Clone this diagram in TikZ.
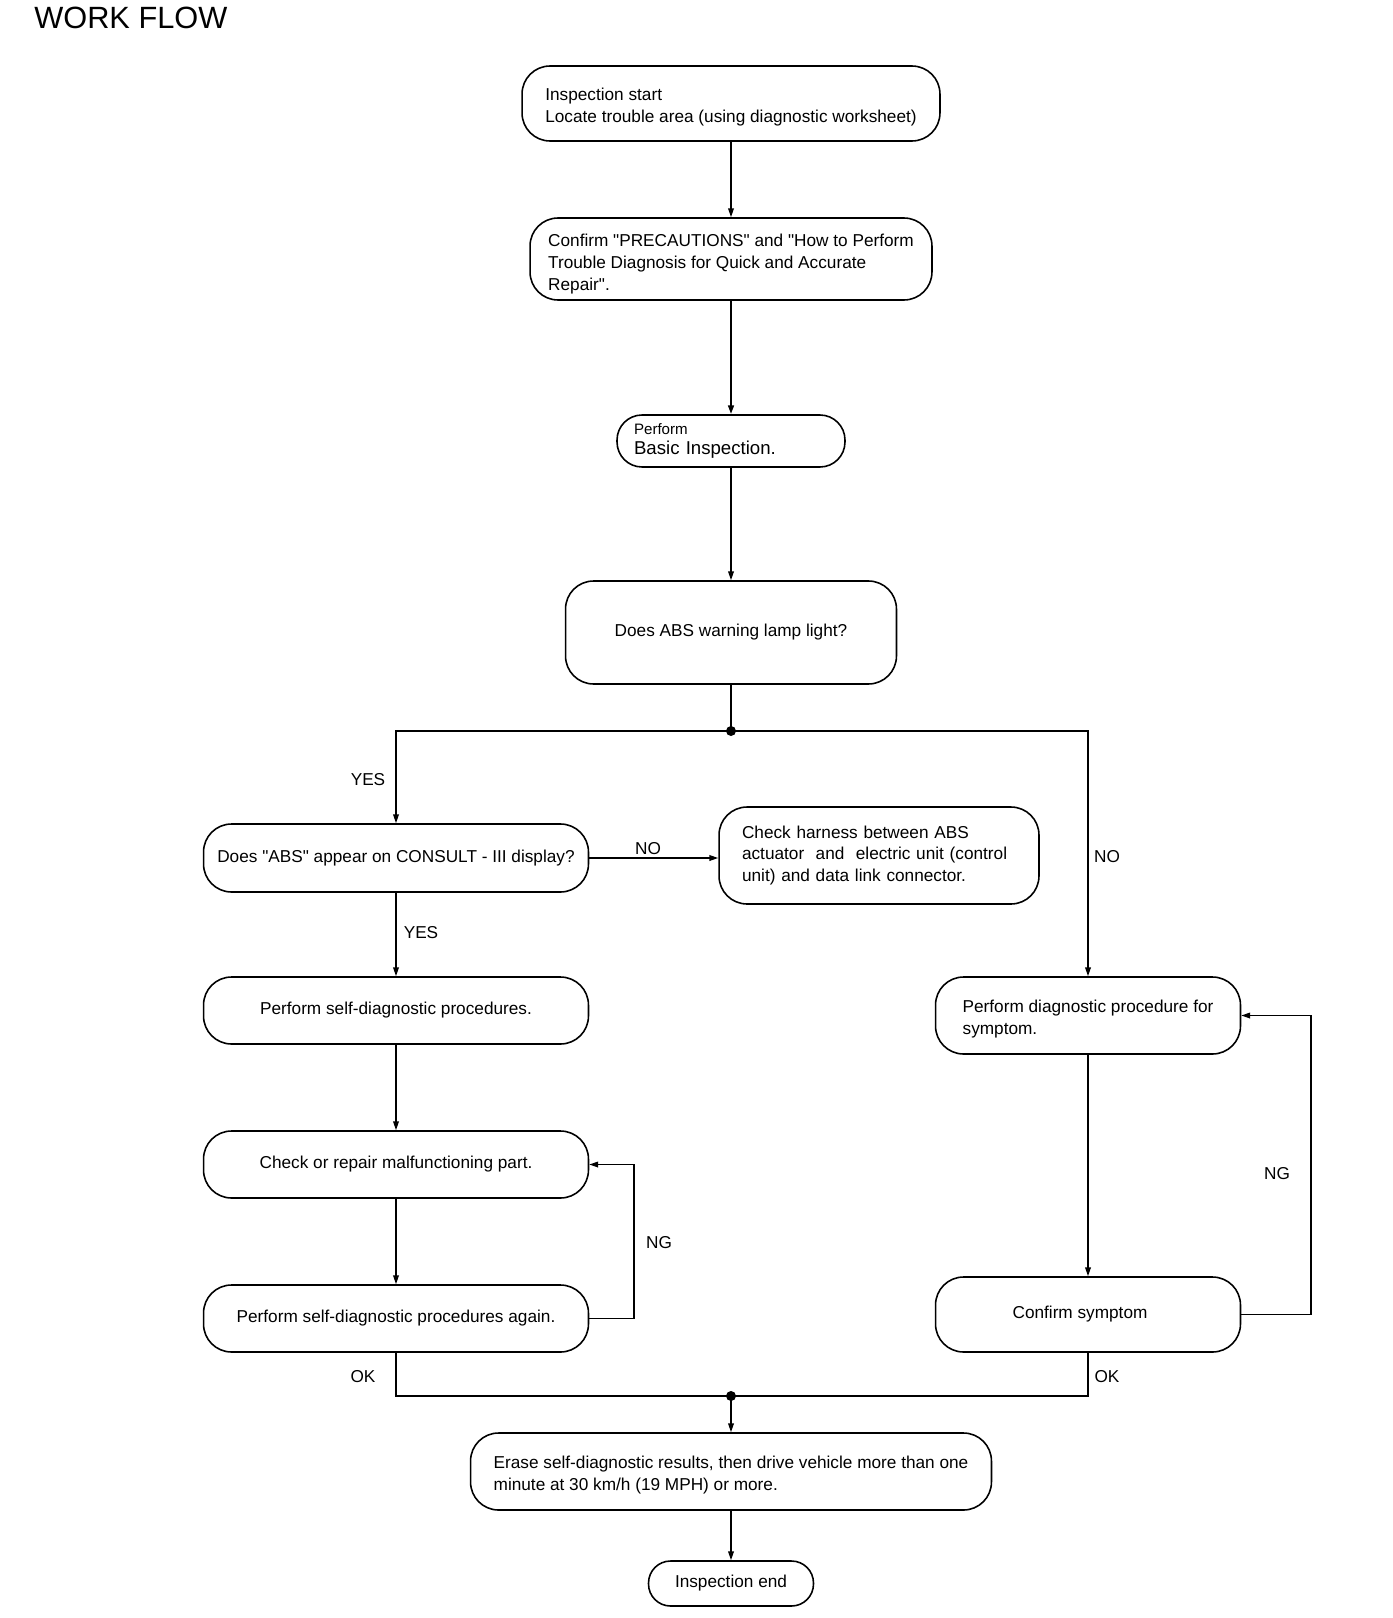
\documentclass[tikz,border=0pt]{standalone}
\usepackage{fontspec}
\setmainfont{Liberation Sans}
\usetikzlibrary{arrows.meta}
\begin{document}
\begin{tikzpicture}[x=0.02cm,y=-0.02cm,
  box/.style={draw, line width=0.9pt, rounded corners=0.56cm, inner sep=0pt,
    font=\fontsize{9.8}{12.5}\selectfont, align=center},
  lbox/.style={box, align=left},
  conn/.style={draw, line width=0.8pt},
  arr/.style={conn, -{Triangle[length=5pt,width=3.2pt]}},
  lbl/.style={font=\fontsize{9.8}{12}\selectfont, inner sep=0pt},
  dot/.style={fill=black}]
\useasboundingbox (0,0) rectangle (1392,1618);

\node[anchor=base west, font=\fontsize{17.5}{20}\selectfont, inner sep=0pt] (title) at (34,29) {WORK FLOW};

% boxes
\node[lbox, minimum width=8.36cm, minimum height=1.5cm] (b1) at (731,103.5)
  {\rule{0pt}{11.5pt}Inspection start\\Locate trouble area (using diagnostic worksheet)};
\node[lbox, minimum width=8.04cm, minimum height=1.64cm] (b2) at (731,259)
  {\rule{0pt}{12.5pt}Confirm \textquotedbl PRECAUTIONS\textquotedbl{} and \textquotedbl How to Perform\\Trouble Diagnosis for Quick and Accurate\\Repair\textquotedbl.};
\node[box, rounded corners=0.5cm, minimum width=4.56cm, minimum height=1.04cm,
  align=left, text width=3.88cm, font=\fontsize{10.6}{11.4}\selectfont] (b3) at (731,441)
  {{\fontsize{8.6}{10}\selectfont Perform}\\Basic Inspection.};
\node[box, minimum width=6.62cm, minimum height=2.06cm] (b4) at (731,632.5)
  {Does ABS warning lamp light?};
\node[box, minimum width=7.7cm, minimum height=1.36cm] (b5) at (396,858)
  {Does \textquotedbl ABS\textquotedbl{} appear on CONSULT - III display?};
\node[box, minimum width=6.4cm, minimum height=1.94cm, align=left, text width=5.48cm] (b6) at (879,855.5)
  {Check harness between ABS\\actuator\ \ and\ \ electric unit (control\\unit) and data link connector.};
\node[box, minimum width=7.7cm, minimum height=1.34cm] (b7) at (396,1010.5)
  {Perform self-diagnostic procedures.};
\node[box, minimum width=7.7cm, minimum height=1.34cm] (b8) at (396,1164.5)
  {Check or repair malfunctioning part.};
\node[box, minimum width=7.7cm, minimum height=1.34cm] (b9) at (396,1318.5)
  {Perform self-diagnostic procedures again.};
\node[lbox, minimum width=6.1cm, minimum height=1.54cm] (b10) at (1088,1015.5)
  {\rule{0pt}{11pt}Perform diagnostic procedure for\\symptom.};
\node[box, minimum width=6.1cm, minimum height=1.5cm] (b11) at (1088,1314.5)
  {Confirm symptom\hspace{0.32cm}};
\node[lbox, minimum width=10.42cm, minimum height=1.54cm] (b12) at (731,1471.5)
  {\rule{0pt}{11pt}Erase self-diagnostic results, then drive vehicle more than one\\minute at 30 km/h (19 MPH) or more.};
\node[box, rounded corners=0.44cm, minimum width=3.3cm, minimum height=0.9cm] (b13) at (731,1583.5)
  {Inspection end};

% junctions and helper coordinates
\coordinate (j1) at (731,731);
\coordinate (j2) at (731,1396);
\coordinate (lloop) at (634,0);
\coordinate (rloop) at (1311,0);

% connectors
\draw[arr] (b1) -- (b2);
\draw[arr, line width=1.6pt] (b2) -- (b3);
\draw[arr] (b3) -- (b4);
\draw[conn] (b4) -- (j1);
\draw[arr] (j1) -| (b5);
\draw[arr] (j1) -| (b10);
\draw[arr] (b5.east) -- (b5.east -| b6.west);
\draw[arr] (b5) -- (b7);
\draw[arr] (b7) -- (b8);
\draw[arr] (b8) -- (b9);
\draw[arr] (b9.east) -- (b9.east -| lloop) |- (b8.east);
\draw[arr] (b10) -- (b11);
\draw[arr] (b11.east) -- (b11.east -| rloop) |- (b10.east);
\draw[conn] (b9) |- (j2);
\draw[conn] (b11) |- (j2);
\draw[arr] (j2) -- (b12);
\draw[arr] (b12) -- (b13);
\fill[dot] (j1) circle[radius=0.1cm];
\fill[dot] (j2) circle[radius=0.1cm];

% labels
\node[lbl] (yes1) at (368,780) {YES};
\node[lbl] (no1) at (648,849) {NO};
\node[lbl] (no2) at (1107,857) {NO};
\node[lbl] (yes2) at (421,933) {YES};
\node[lbl] (ng1) at (659,1243) {NG};
\node[lbl] (ng2) at (1277,1174) {NG};
\node[lbl] (ok1) at (363,1377) {OK};
\node[lbl] (ok2) at (1107,1377) {OK};
\end{tikzpicture}
\end{document}
